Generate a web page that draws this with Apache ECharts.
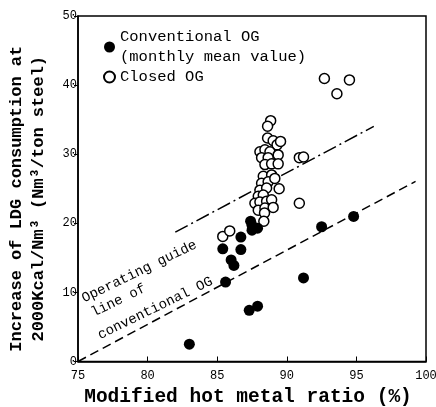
<!DOCTYPE html>
<html>
<head>
<meta charset="utf-8">
<script src="https://cdn.jsdelivr.net/npm/echarts@6/dist/echarts.min.js"></script>
<style>html,body{margin:0;padding:0;background:#fff}#c{width:436px;height:407px}</style>
</head>
<body>
<div id="c"></div>
<script>
// Conventional OG (monthly mean value) — filled circles [ratio %, increase]
var conventionalOG = [
  [83.0, 2.5], [85.6, 11.5], [85.4, 16.3], [86.0, 14.7], [86.2, 13.9],
  [86.7, 18.0], [86.7, 16.2], [87.4, 20.3], [87.5, 19.7], [87.5, 19.0],
  [87.9, 19.3], [87.3, 7.4], [87.9, 8.0], [91.2, 12.1], [92.5, 19.5], [94.8, 21.0]
];
// Closed OG — open circles
var closedOG = [
  [88.84, 34.85], [88.62, 34.05], [88.62, 32.35], [89.02, 31.95], [89.3, 31.35], [89.55, 31.85],
  [88.07, 30.35], [88.43, 30.65], [88.79, 30.35], [89.38, 29.9], [88.19, 29.5], [88.66, 29.5],
  [88.43, 28.5], [88.91, 28.6], [89.38, 28.6], [88.31, 26.8], [88.91, 27.0], [88.19, 25.8],
  [88.66, 26.0], [89.14, 26.5], [88.07, 24.8], [88.55, 25.1], [89.45, 25.0], [87.95, 23.9],
  [88.31, 24.1], [87.71, 22.9], [88.07, 23.1], [88.55, 23.2], [88.91, 23.4], [87.95, 21.9],
  [88.43, 22.2], [89.02, 22.3], [88.4, 21.5], [88.35, 20.3],
  [85.4, 18.1], [85.9, 18.9], [90.9, 22.9], [90.9, 29.5], [91.2, 29.6],
  [92.7, 40.95], [93.6, 38.75], [94.5, 40.75]
];
// Operating guide line of conventional OG (dashed)
var guideConventional = [[75, 0], [99.25, 26.06]];
// Dash-dot line (closed OG)
var guideClosed = [[81.99, 18.72], [96.25, 34.03]];
// Annotation text along the guide line
var annotText = ['Operating guide', 'line of', 'conventional OG'];
var annotPos = [[79.40, 13.01], [77.91, 8.81], [80.55, 7.71]];

var xTicks = [75, 80, 85, 90, 95, 100];
var yTicks = [0, 10, 20, 30, 40, 50];

var FONT = '"Liberation Mono", "DejaVu Sans Mono", monospace';
var chart = echarts.init(document.getElementById('c'), null, {renderer: 'canvas'});

var annotMarks = annotPos.map(function (p, i) {
  return {coord: p, name: annotText[i], value: annotText[i]};
});

chart.setOption({
  animation: false,
  backgroundColor: '#fff',
  grid: {left: 78, right: 10, top: 16, bottom: 45.5, show: true, borderColor: '#000', borderWidth: 1.5,
         containLabel: false, outerBoundsMode: 'none'},
  legend: {
    orient: 'vertical', left: 98, top: 22, itemGap: 0, itemWidth: 11, itemHeight: 11,
    selectedMode: false,
    textStyle: {fontFamily: FONT, fontSize: 15.5, color: '#000', lineHeight: 20},
    data: [
      {name: 'Conventional OG\n(monthly mean value)', icon: 'circle'},
      {name: 'Closed OG', icon: 'circle'}
    ]
  },
  xAxis: {
    type: 'value', min: xTicks[0], max: xTicks[xTicks.length - 1], interval: 5,
    splitLine: {show: false},
    axisLine: {show: true, onZero: false, lineStyle: {color: '#000', width: 1.5}},
    axisTick: {show: true, inside: true, length: 5, lineStyle: {color: '#000'}},
    axisLabel: {fontFamily: FONT, fontSize: 12, color: '#000', margin: 8},
    name: 'Modified hot metal ratio (%)', nameLocation: 'middle', nameGap: 26,
    nameTextStyle: {fontFamily: FONT, fontSize: 19.5, fontWeight: 'bold', color: '#000', padding: [0, 8, 0, 0]}
  },
  yAxis: {
    type: 'value', min: yTicks[0], max: yTicks[yTicks.length - 1], interval: 10,
    splitLine: {show: false},
    axisLine: {show: true, onZero: false, lineStyle: {color: '#000', width: 1.5}},
    axisTick: {show: true, length: 4, lineStyle: {color: '#000'}},
    axisLabel: {fontFamily: FONT, fontSize: 12, color: '#000', margin: 1},
    name: 'Increase of LDG consumption at\n2000Kcal/Nm\u00b3 (Nm\u00b3/ton steel)',
    nameLocation: 'middle', nameGap: 28, nameRotate: 90,
    nameTextStyle: {fontFamily: FONT, fontSize: 17, fontWeight: 'bold', color: '#000', lineHeight: 22, padding: [0, 20, 0, 0]}
  },
  series: [
    {
      type: 'line', data: guideConventional, symbol: 'none', silent: true,
      lineStyle: {color: '#000', width: 1.5, type: [9, 5]}, z: 1,
      markPoint: {
        symbol: 'circle', symbolSize: 0, silent: true, data: annotMarks,
        label: {
          show: true, position: 'inside', rotate: 26,
          formatter: function (p) { return p.name; },
          fontFamily: FONT, fontSize: 14, color: '#000'
        }
      }
    },
    {
      type: 'line', data: guideClosed, symbol: 'none', silent: true,
      lineStyle: {color: '#000', width: 1.5, type: [14, 4, 2, 4]}, z: 1
    },
    {
      name: 'Closed OG', type: 'scatter', data: closedOG,
      symbol: 'circle', symbolSize: 10,
      itemStyle: {color: '#ffffff', borderColor: '#000000', borderWidth: 1.5, opacity: 1}, z: 3
    },
    {
      name: 'Conventional OG\n(monthly mean value)', type: 'scatter', data: conventionalOG,
      symbol: 'circle', symbolSize: 11, itemStyle: {color: '#000', opacity: 1}, z: 4
    }
  ]
});
</script>
</body>
</html>
